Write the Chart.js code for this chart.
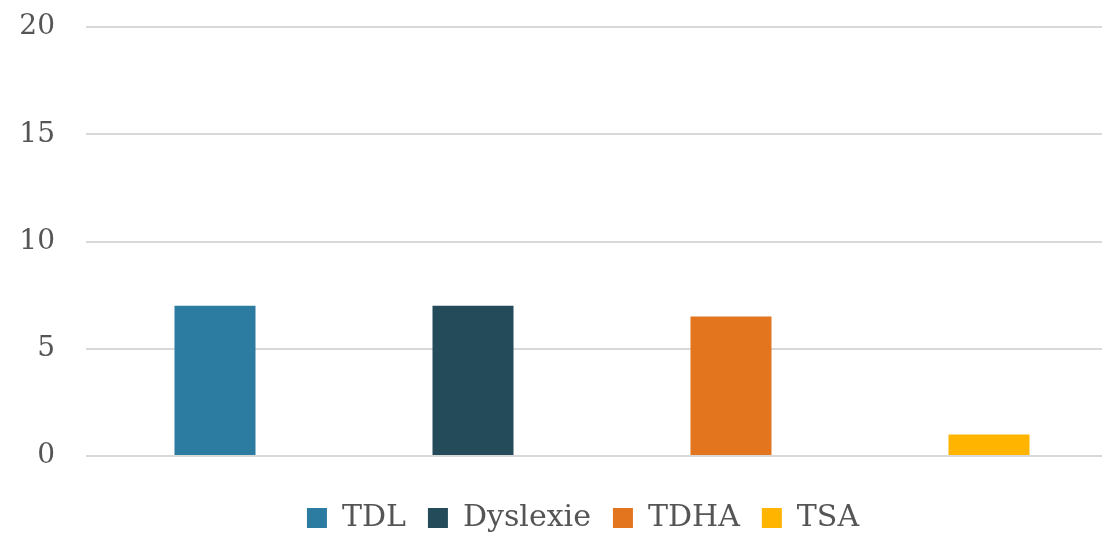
<!DOCTYPE html>
<html>
<head>
<meta charset="utf-8">
<script src="https://cdn.jsdelivr.net/npm/chart.js@4"></script>
<style>
  html, body { margin: 0; padding: 0; background: #ffffff; overflow: hidden; }
  #wrap { width: 1122px; height: 533px; position: relative; }
</style>
</head>
<body>
<div id="wrap"><canvas id="c"></canvas></div>
<script>
// Troubles des apprentissages: one bar per category
const categories = ['TDL', 'Dyslexie', 'TDHA', 'TSA'];
const values = [7, 7, 6.5, 1];
const colors = ['#2C7BA0', '#244B5A', '#E2751E', '#FFB400'];
const yTicks = [0, 5, 10, 15, 20];

const FONT = '"DejaVu Serif", "Liberation Serif", serif';

const datasets = categories.map((name, i) => ({
  label: name,
  data: categories.map((_, j) => (j === i ? values[i] : null)),
  backgroundColor: colors[i],
  borderWidth: 0,
  skipNull: true,
  categoryPercentage: 1,
  barPercentage: 0.314
}));

// nudge the bottom legend a little to the right of the canvas centre
const legendShift = {
  id: 'legendShift',
  afterLayout(chart) {
    if (chart.legend) {
      chart.legend.left += 24;
      chart.legend.right += 24;
    }
  }
};

new Chart(document.getElementById('c'), {
  type: 'bar',
  data: { labels: categories, datasets },
  plugins: [legendShift],
  options: {
    responsive: true,
    maintainAspectRatio: false,
    animation: false,
    layout: { padding: { top: 27, right: 4, left: 0, bottom: -10 } },
    plugins: {
      tooltip: { enabled: false },
      legend: {
        position: 'bottom',
        labels: {
          font: { family: FONT, size: 30 },
          color: '#555555',
          boxWidth: 20,
          boxHeight: 20,
          padding: 22
        }
      }
    },
    scales: {
      x: {
        afterFit: (s) => { s.height = 25; },
        grid: { display: false },
        border: { display: false },
        ticks: { display: false }
      },
      y: {
        min: 0,
        max: 20,
        afterBuildTicks: (s) => { s.ticks = yTicks.map(v => ({ value: v })); },
        afterFit: (s) => { s.width = 86; s.paddingTop = 0; s.paddingBottom = 0; },
        grid: { color: '#D9D9D9', lineWidth: 2, drawTicks: false },
        border: { display: false },
        ticks: {
          font: { family: FONT, size: 28 },
          color: '#555555',
          padding: 31
        }
      }
    }
  }
});
</script>
</body>
</html>
